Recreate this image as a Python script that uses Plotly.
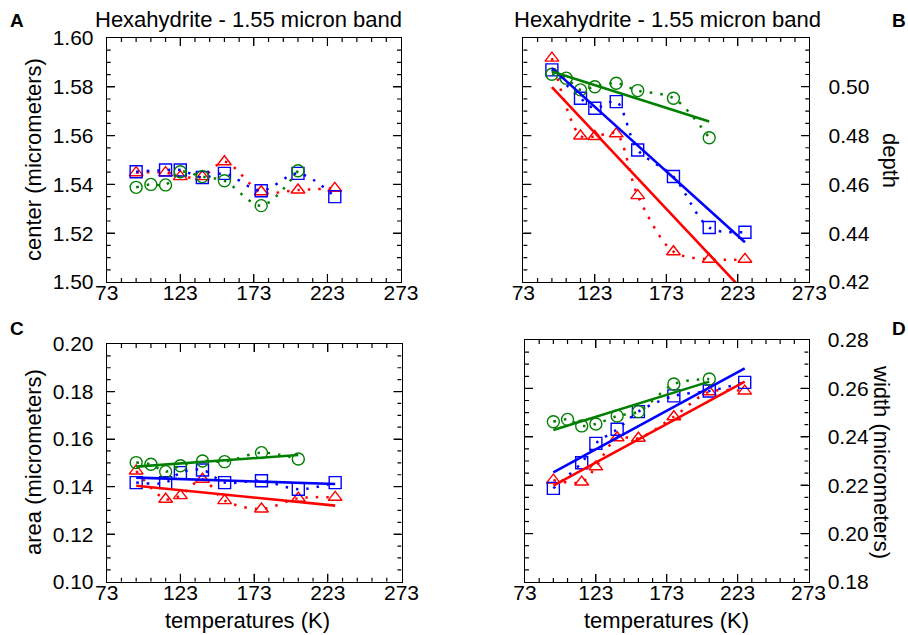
import plotly.graph_objects as go

# ---------------- data ----------------
temps = [93, 113, 123, 138, 153, 178, 203, 228]
temps_green = [93, 103, 113, 123, 138, 153, 178, 203]

# A: band center (micrometers)
center_red = [1.5448, 1.5448, 1.5432, 1.5432, 1.5493, 1.5370, 1.5377, 1.5384]
center_blue = [1.5452, 1.5459, 1.5459, 1.5428, 1.5445, 1.5374, 1.5445, 1.5350]
center_green = [1.5388, 1.5400, 1.5398, 1.5452, 1.5432, 1.5415, 1.5313, 1.5456]

# B: band depth
depth_red = [0.5117, 0.4798, 0.4796, 0.4807, 0.4554, 0.4324, 0.4293, 0.4293]
depth_blue = [0.5069, 0.4953, 0.4912, 0.4939, 0.4741, 0.4632, 0.4423, 0.4404]
depth_green = [0.5051, 0.5035, 0.4987, 0.5000, 0.5014, 0.4984, 0.4953, 0.4791]
fit_t = [93, 228]
fit_t_green = [93, 203]
depth_fit_red = [0.4998, 0.4157]
depth_fit_blue = [0.5076, 0.4363]
depth_fit_green = [0.5062, 0.4857]

# C: band area (micrometers)
area_red = [0.1466, 0.1347, 0.1362, 0.1431, 0.1341, 0.1306, 0.1351, 0.1355]
area_blue = [0.1417, 0.1417, 0.1459, 0.1470, 0.1417, 0.1425, 0.1389, 0.1417]
area_green = [0.1501, 0.1494, 0.1463, 0.1488, 0.1508, 0.1505, 0.1543, 0.1516]
area_fit_red = [0.1404, 0.1320]
area_fit_blue = [0.1438, 0.1411]
area_fit_green = [0.1484, 0.1533]

# D: band width (micrometers)
width_red = [0.2221, 0.2213, 0.2276, 0.2396, 0.2394, 0.2483, 0.2586, 0.2589]
width_blue = [0.2187, 0.2293, 0.2373, 0.2431, 0.2504, 0.2569, 0.2589, 0.2625]
width_green = [0.2462, 0.2472, 0.2445, 0.2453, 0.2486, 0.2504, 0.2618, 0.2639]
width_fit_red = [0.2198, 0.2628]
width_fit_blue = [0.2253, 0.2683]
width_fit_green = [0.2428, 0.2628]

# axis ranges / tick steps
x_range = [73, 273]
x_tick_step = 50
x_minor_step = 10
rangeA = [1.50, 1.60]
rangeB = [0.42, 0.51995]   # top label 0.52 is not shown in the original
rangeC = [0.10, 0.20]
rangeD = [0.18, 0.28]
y_tick_step = 0.02
y_minor_step = 0.005

RED, BLUE, GREEN = "#ff0000", "#0000ff", "#008000"
FONT = "Arial"
W, H = 908, 635

# panel boxes in page pixels: (left, right, top, bottom)
BOX = {
    "A": (106.7, 401.0, 38.0, 282.0),
    "B": (523.3, 809.3, 38.0, 282.0),
    "C": (106.7, 401.5, 344.0, 581.7),
    "D": (525.0, 808.5, 340.0, 582.0),
}

fig = go.Figure()


def series(xs, ys, color, symbol, xa, ya):
    fig.add_trace(go.Scatter(
        x=xs, y=ys, mode="lines+markers", xaxis=xa, yaxis=ya,
        line=dict(color=color, width=2.5, dash="2.5px,8px", shape="spline", smoothing=0.9),
        marker=dict(symbol=symbol, size=12, color=color,
                    line=dict(color=color, width=1.4)),
        showlegend=False, hoverinfo="x+y"))


def fit(xs, ys, color, xa, ya):
    fig.add_trace(go.Scatter(
        x=xs, y=ys, mode="lines", xaxis=xa, yaxis=ya,
        line=dict(color=color, width=2.6), showlegend=False, hoverinfo="skip"))


# A
series(temps, center_red, RED, "triangle-up-open", "x", "y")
series(temps, center_blue, BLUE, "square-open", "x", "y")
series(temps_green, center_green, GREEN, "circle-open", "x", "y")
# B
series(temps, depth_red, RED, "triangle-up-open", "x2", "y2")
series(temps, depth_blue, BLUE, "square-open", "x2", "y2")
series(temps_green, depth_green, GREEN, "circle-open", "x2", "y2")
fit(fit_t, depth_fit_red, RED, "x2", "y2")
fit(fit_t, depth_fit_blue, BLUE, "x2", "y2")
fit(fit_t_green, depth_fit_green, GREEN, "x2", "y2")
# C
series(temps, area_red, RED, "triangle-up-open", "x3", "y3")
series(temps, area_blue, BLUE, "square-open", "x3", "y3")
series(temps_green, area_green, GREEN, "circle-open", "x3", "y3")
fit(fit_t, area_fit_red, RED, "x3", "y3")
fit(fit_t, area_fit_blue, BLUE, "x3", "y3")
fit(fit_t_green, area_fit_green, GREEN, "x3", "y3")
# D
series(temps, width_red, RED, "triangle-up-open", "x4", "y4")
series(temps, width_blue, BLUE, "square-open", "x4", "y4")
series(temps_green, width_green, GREEN, "circle-open", "x4", "y4")
fit(fit_t, width_fit_red, RED, "x4", "y4")
fit(fit_t, width_fit_blue, BLUE, "x4", "y4")
fit(fit_t_green, width_fit_green, GREEN, "x4", "y4")


def steps(lo, hi, step):
    n = int(round((hi - lo) / step))
    return [lo + i * step for i in range(n + 1)]


# inside tick marks on all four sides of a box, drawn through the panel's own axes
def box_ticks(key, xa, ya, yr):
    left, right, top, bottom = BOX[key]
    kx = (x_range[1] - x_range[0]) / (right - left)      # data units per pixel
    ky = (yr[1] - yr[0]) / (bottom - top)
    xs, ys = [], []
    for t in steps(x_range[0], x_range[1], x_minor_step)[1:-1]:
        L = 8 if round(t - x_range[0]) % x_tick_step == 0 else 4
        xs += [t, t, None, t, t, None]
        ys += [yr[0], yr[0] + L * ky, None, yr[1], yr[1] - L * ky, None]
    lo = round(yr[0], 3)
    for v in steps(lo, lo + 0.1, y_minor_step)[1:-1]:
        L = 8 if int(round((v - lo) / y_minor_step)) % 4 == 0 else 4
        xs += [x_range[0], x_range[0] + L * kx, None, x_range[1], x_range[1] - L * kx, None]
        ys += [v, v, None, v, v, None]
    fig.add_trace(go.Scatter(x=xs, y=ys, mode="lines", xaxis=xa, yaxis=ya,
                             line=dict(color="black", width=1.2),
                             showlegend=False, hoverinfo="skip"))


box_ticks("A", "x", "y", rangeA)
box_ticks("B", "x2", "y2", rangeB)
box_ticks("C", "x3", "y3", rangeC)
box_ticks("D", "x4", "y4", rangeD)


def px_dom(a, b):
    return [a / W, b / W]


def py_dom(top, bottom):
    return [1 - bottom / H, 1 - top / H]


NOGRID = "rgba(0,0,0,0)"


def xaxis(key, anchor):
    left, right, top, bottom = BOX[key]
    return dict(domain=px_dom(left, right), anchor=anchor, range=x_range,
                tickmode="linear", tick0=x_range[0], dtick=x_tick_step,
                ticks="inside", ticklen=8, tickcolor="black",
                showline=True, linecolor="black", mirror="ticks",
                gridcolor=NOGRID, zeroline=False,
                ticklabelstandoff=-8)


def yaxis(key, anchor, rng, side):
    left, right, top, bottom = BOX[key]
    return dict(domain=py_dom(top, bottom), anchor=anchor, range=rng, side=side,
                tickmode="linear", tick0=rng[0], dtick=y_tick_step, tickformat=".2f",
                ticks="inside", ticklen=8, tickcolor="black",
                showline=True, linecolor="black", mirror="ticks",
                gridcolor=NOGRID, zeroline=False,
                ticklabelstandoff=(8 if side == "left" else 14))


fig.update_layout(
    width=W, height=H, template="none",
    margin=dict(l=0, r=0, t=0, b=0),
    font=dict(family=FONT, size=21, color="black"),
    showlegend=False,
    xaxis=xaxis("A", "y"),
    yaxis=yaxis("A", "x", rangeA, "left"),
    xaxis2=xaxis("B", "y2"),
    yaxis2=yaxis("B", "x2", rangeB, "right"),
    xaxis3=xaxis("C", "y3"),
    yaxis3=yaxis("C", "x3", rangeC, "left"),
    xaxis4=xaxis("D", "y4"),
    yaxis4=yaxis("D", "x4", rangeD, "right"),
)


def ann(text, x, y, size=22, angle=0, bold=False):
    fig.add_annotation(text=("<b>%s</b>" % text) if bold else text,
                       x=x / W, y=1 - y / H, xref="paper", yref="paper",
                       showarrow=False, textangle=angle, xanchor="center", yanchor="middle",
                       font=dict(family=FONT, size=size, color="black"))


ann("Hexahydrite - 1.55 micron band", 248, 20)
ann("Hexahydrite - 1.55 micron band", 667, 20)
ann("A", 17, 21, size=19, bold=True)
ann("B", 899, 21, size=19, bold=True)
ann("C", 17, 328, size=19, bold=True)
ann("D", 899, 328, size=19, bold=True)
ann("center (micrometers)", 33, 160, angle=-90)
ann("area (micrometers)", 33, 462, angle=-90)
ann("depth", 891, 160, angle=90)
ann("width (micrometers)", 882, 462, angle=90)
ann("temperatures (K)", 247, 620)
ann("temperatures (K)", 666, 620)

# the page body gets no margin, so the 908x635 figure fills the window exactly
fig.write_html("out.html", config={"displayModeBar": False},
               post_script="document.body.style.margin='0px';document.body.style.overflow='hidden';")
